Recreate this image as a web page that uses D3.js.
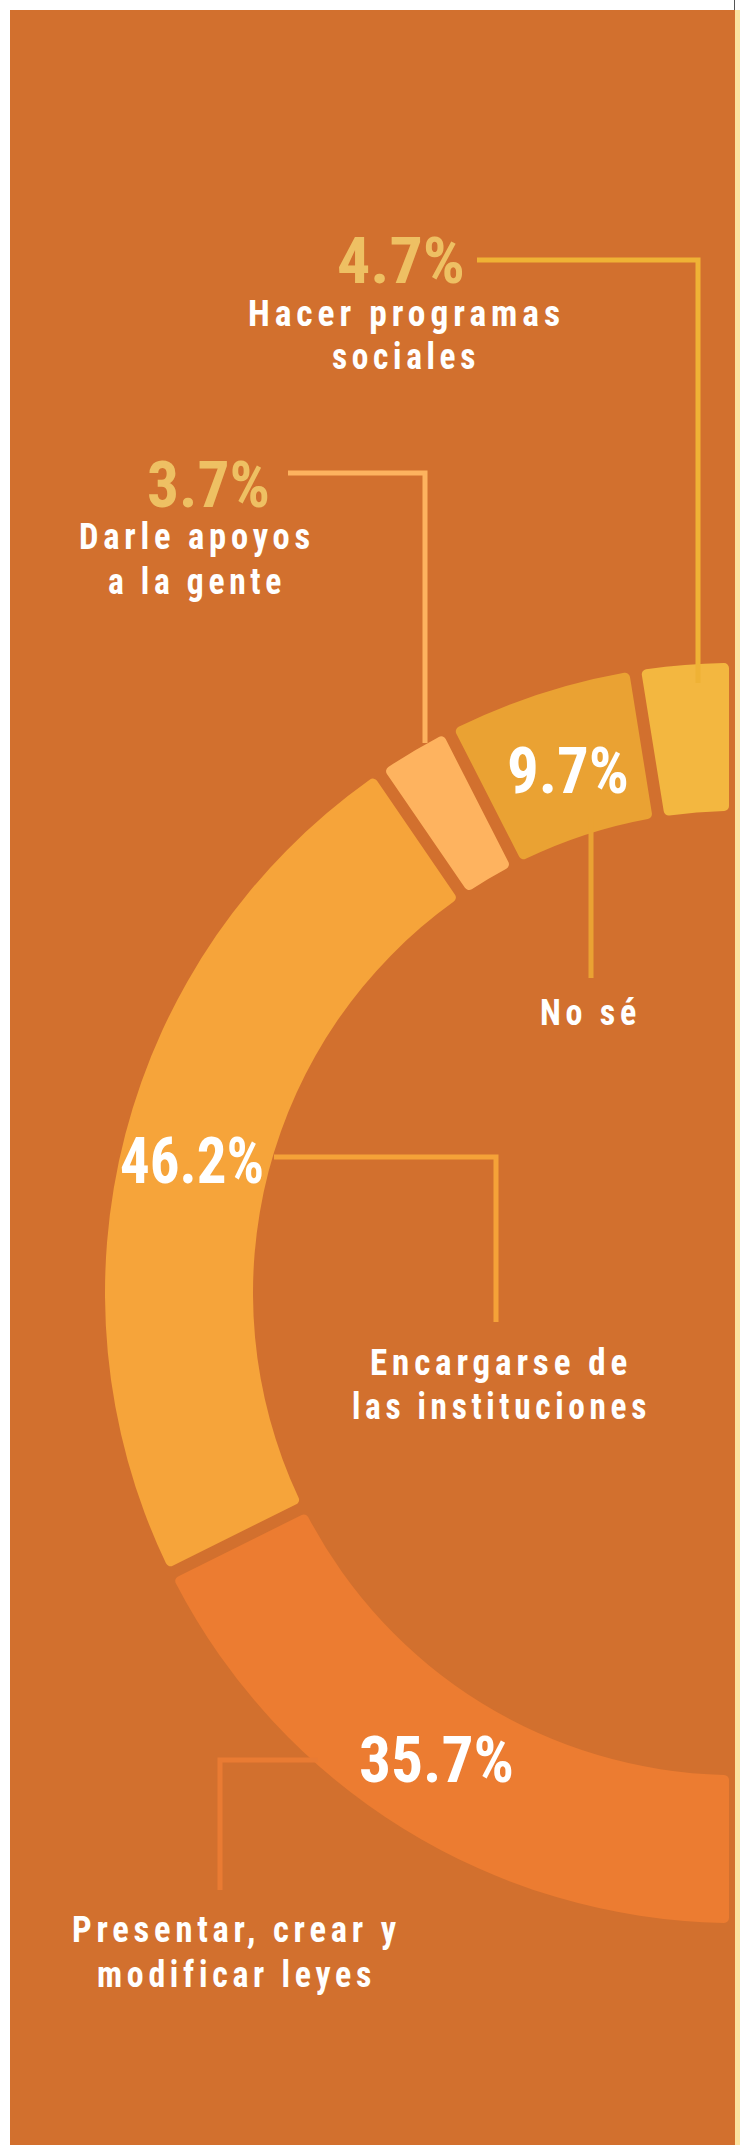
<!DOCTYPE html>
<html>
<head>
<meta charset="utf-8">
<style>
  body { margin: 0; background: #fff; }
  svg { display: block; }
  .pct { font-family: "Roboto Condensed", "DejaVu Sans Condensed", "Liberation Sans Narrow", Roboto, sans-serif; font-weight: 700; font-size: 65px; }
  .lbl { font-family: "Roboto Condensed", "DejaVu Sans Condensed", "Liberation Sans Narrow", Roboto, sans-serif; font-weight: 700; font-size: 36px; letter-spacing: 5px; fill: #fff; }
  .leader { fill: none; stroke-width: 5px; }
</style>
<script src="https://cdnjs.cloudflare.com/ajax/libs/d3/7.8.5/d3.min.js"></script>
</head>
<body>
<svg width="740" height="2145"></svg>
<script>
// data, from bottom of the half ring going clockwise to the top
var categories = ["Presentar, crear y modificar leyes", "Encargarse de las instituciones", "Darle apoyos a la gente", "No sé", "Hacer programas sociales"];
var values = [35.7, 46.2, 3.7, 9.7, 4.7];
var labelLines = [["Presentar, crear y", "modificar leyes"], ["Encargarse de", "las instituciones"], ["Darle apoyos", "a la gente"], ["No sé"], ["Hacer programas", "sociales"]];

// styles
var sliceColors = ["#EC7C31", "#F6A43A", "#FEB35F", "#EAA233", "#F3B740"];
var lineColors = ["#E97B33", "#F5A238", "#FDB35F", "#EAA233", "#EFB235"];
var pctColors = ["#fff", "#fff", "#EEC063", "#fff", "#EEC063"];

// annotation layout (page px)
var pctPos = [
  {x: 359, y: 1782, w: 155},
  {x: 120, y: 1183, w: 144},
  {x: 147, y: 507, w: 123},
  {x: 507, y: 793, w: 122},
  {x: 337, y: 283, w: 128}
];
var linePos = [
  [{x: 72, y: 1942, w: 329}, {x: 97, y: 1987, w: 279}],
  [{x: 370, y: 1375, w: 262}, {x: 352, y: 1419, w: 299}],
  [{x: 79, y: 549, w: 236}, {x: 108, y: 594, w: 178}],
  [{x: 540, y: 1025, w: 101}],
  [{x: 248, y: 326, w: 317}, {x: 332, y: 369, w: 148}]
];
var leaders = [
  [[318, 1760], [220, 1760], [220, 1890]],
  [[274, 1157], [496, 1157], [496, 1322]],
  [[288, 473], [425, 473], [425, 743]],
  [[591, 817], [591, 978]],
  [[477, 260], [698, 260], [698, 683]]
];

var svg = d3.select("svg"),
    width = +svg.attr("width"),
    height = +svg.attr("height");

var cx = 735, cy = 1293, rOuter = 630, rInner = 482, gap = 12;

svg.append("rect").attr("x", 10).attr("y", 10).attr("width", 725).attr("height", height - 10).attr("fill", "#D2702E");
svg.append("rect").attr("x", 735).attr("y", 10).attr("width", 5).attr("height", height - 10).attr("fill", "#FCE29F");
svg.append("line").attr("x1", 734.5).attr("y1", 0).attr("x2", 734.5).attr("y2", 10).attr("stroke", "#555").attr("stroke-width", 1);

var pie = d3.pie().sort(null)
  .startAngle(Math.PI).endAngle(2 * Math.PI)
  .padAngle(gap / Math.sqrt(rInner * rInner + rOuter * rOuter));

var arc = d3.arc().innerRadius(rInner).outerRadius(rOuter).cornerRadius(5);

var g = svg.append("g").attr("transform", "translate(" + cx + "," + cy + ")");

g.selectAll("path.slice")
  .data(pie(values))
  .enter().append("path")
  .attr("class", "slice")
  .attr("d", arc)
  .attr("fill", function(d, i) { return sliceColors[i]; });

var line = d3.line();

svg.selectAll("path.leader")
  .data(leaders)
  .enter().append("path")
  .attr("class", "leader")
  .attr("d", line)
  .attr("stroke", function(d, i) { return lineColors[i]; });

var fmt = d3.format(".1f");

svg.selectAll("text.pct")
  .data(values)
  .enter().append("text")
  .attr("class", "pct")
  .attr("x", function(d, i) { return pctPos[i].x; })
  .attr("y", function(d, i) { return pctPos[i].y; })
  .attr("textLength", function(d, i) { return pctPos[i].w; })
  .attr("lengthAdjust", "spacingAndGlyphs")
  .attr("fill", function(d, i) { return pctColors[i]; })
  .text(function(d) { return fmt(d) + "%"; });

labelLines.forEach(function(lines, i) {
  lines.forEach(function(t, j) {
    var p = linePos[i][j];
    svg.append("text")
      .attr("class", "lbl")
      .attr("x", p.x)
      .attr("y", p.y)
      .attr("textLength", p.w)
      .attr("lengthAdjust", "spacingAndGlyphs")
      .text(t);
  });
});
</script>
</body>
</html>
